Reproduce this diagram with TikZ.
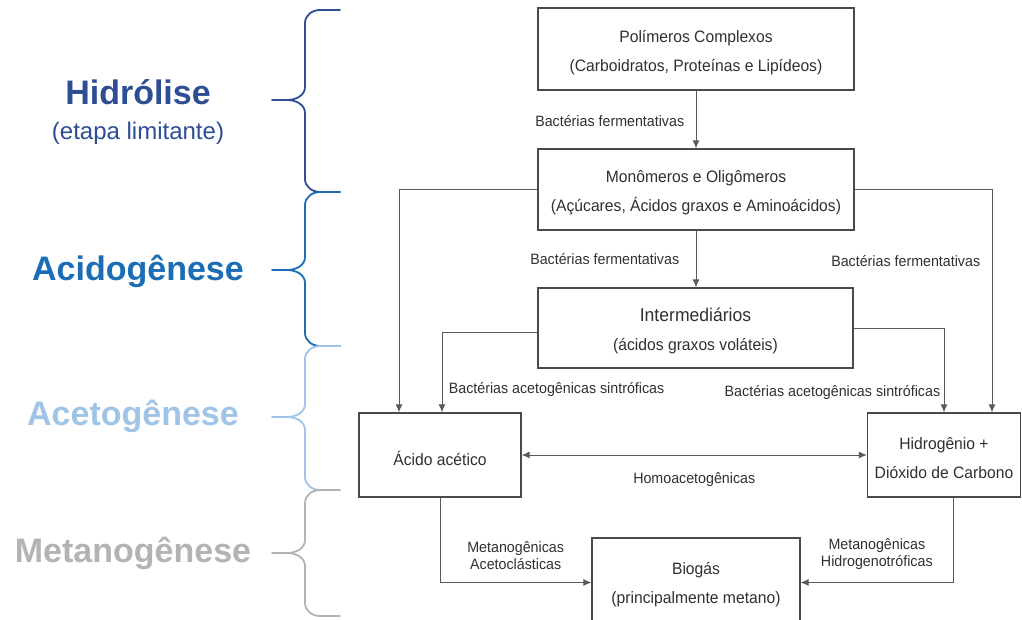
\documentclass[tikz,border=0pt]{standalone}
\usepackage{fontspec}
\usepackage{xcolor}
\usepackage{tikz}
\usetikzlibrary{arrows.meta}
\usetikzlibrary{calc}
\usetikzlibrary{positioning}

\setmainfont{Liberation Sans}
\newfontfamily\diagfont[FakeStretch=0.95]{Liberation Sans}

\definecolor{hidro}{HTML}{2E4D94}
\definecolor{acido}{HTML}{1B6DB6}
\definecolor{aceto}{HTML}{9FC4E7}
\definecolor{metano}{HTML}{B3B3B3}
\definecolor{boxline}{HTML}{4A4A4A}
\definecolor{connline}{HTML}{5A5A5A}
\definecolor{boxtextcol}{HTML}{303030}

\begin{document}
\begin{tikzpicture}[x=1pt, y=-1pt,
    stagebox/.style={draw=boxline, line width=1.3pt, inner sep=0pt},
    boxtext/.style={text=boxtextcol, font=\diagfont\fontsize{16.5}{29}\selectfont,
      align=center, inner sep=0pt, yshift=-3.5pt},
    conn/.style={draw=connline, line width=1pt},
    flow/.style={conn, -{Latex[length=8pt,width=7pt]}},
    bactlabel/.style={text=boxtextcol, font=\diagfont\fontsize{15}{17}\selectfont, align=center},
    phaselabel/.style={font=\fontsize{34}{40}\selectfont\bfseries, anchor=base},
    stagebrace/.style={line width=1.8pt, line cap=round, line join=round}]

    \useasboundingbox (0,0) rectangle (1022,620);

    % phase names
    \node[phaselabel, text=hidro] (hidr) at (138,105) {Hidrólise};
    \node[anchor=base, text=hidro, font=\fontsize{24}{28}\selectfont] (lim) at (138,140) {(etapa limitante)};
    \node[phaselabel, text=acido] (acid) at (138,280) {Acidogênese};
    \node[phaselabel, text=aceto] (acet) at (133,425) {Acetogênese};
    \node[phaselabel, text=metano] (meta) at (133,562) {Metanogênese};

    % braces
    \foreach \ya/\ym/\yb/\col in {10/100/192/hidro, 192/270/346/acido,
                                 346/417/490/aceto, 490/553/616/metano} {
      \draw[stagebrace, \col] (340,\ya) -- (320,\ya) to[out=180,in=90] (305,\ya+13)
        -- (305,\ym-13) to[out=-90,in=0] (287,\ym) -- (272,\ym)
        (287,\ym) to[out=0,in=90] (305,\ym+13)
        -- (305,\yb-13) to[out=-90,in=180] (320,\yb) -- (340,\yb);
    }

    % process boxes
    \node[stagebox, minimum width=316pt, minimum height=82pt] (pol) at (696,49) {};
    \node[boxtext] (polt) at (pol) {Polímeros Complexos\\(Carboidratos, Proteínas e Lipídeos)};
    \node[stagebox, minimum width=316pt, minimum height=81pt] (mon) at (696,189.5) {};
    \node[boxtext] (mont) at (mon) {Monômeros e Oligômeros\\(Açúcares, Ácidos graxos e Aminoácidos)};
    \node[stagebox, minimum width=315pt, minimum height=80pt] (int) at (695.5,328) {};
    \node[boxtext, yshift=1pt] (intt) at (int)
      {{\fontsize{18.5}{29}\selectfont Intermediários}\\(ácidos graxos voláteis)};
    \node[stagebox, minimum width=162pt, minimum height=84pt] (ac) at (440,455) {};
    \node[boxtext] (act) at (ac) {Ácido acético};
    \node[stagebox, minimum width=153pt, minimum height=84pt] (hid) at (944,455) {};
    \node[boxtext] (hidt) at (hid) {Hidrogênio +\\Dióxido de Carbono};
    \node[stagebox, minimum width=208pt, minimum height=89pt] (bio) at (696,582.5) {};
    \node[boxtext, yshift=1.5pt] (biot) at (bio) {Biogás\\(principalmente metano)};

    % hydrolysis and acidogenesis
    \draw[flow] (pol) -- (mon)
      node[bactlabel, midway, left=8pt, yshift=-2pt] (bf1) {Bactérias fermentativas};
    \draw[flow] (mon.south) -- (mon.south |- int.north)
      node[bactlabel, midway, left=13pt] (bf2) {Bactérias fermentativas};
    \draw[flow] (mon.west) -| ([xshift=-41pt]ac.north);
    \draw[flow] (mon.east) -| ([xshift=48pt]hid.north)
      node[bactlabel, pos=0.66, left=8pt] (bf3) {Bactérias fermentativas};

    % acetogenesis
    \draw[flow] ([yshift=-4pt]int.west) -| ([xshift=2pt]ac.north)
      node[bactlabel, pos=0.86, right=3pt] (bas1) {Bactérias acetogênicas sintróficas};
    \draw[flow] (int.east) -| (hid.north)
      node[bactlabel, pos=0.88, left=0pt] (bas2) {Bactérias acetogênicas sintróficas};
    \draw[conn, {Latex[length=8pt,width=7pt]}-{Latex[length=8pt,width=7pt]}] (ac) -- (hid)
      node[bactlabel, midway, below=14pt] (homo) {Homoacetogênicas};

    % methanogenesis
    \draw[flow] (ac.south) |- (bio.west)
      node[bactlabel, pos=0.75, above=9.5pt] (mac) {Metanogênicas\\Acetoclásticas};
    \draw[flow] ([xshift=9pt]hid.south) |- (bio.east)
      node[bactlabel, pos=0.75, above=9.5pt] (mhi) {Metanogênicas\\Hidrogenotróficas};

\end{tikzpicture}
\end{document}
